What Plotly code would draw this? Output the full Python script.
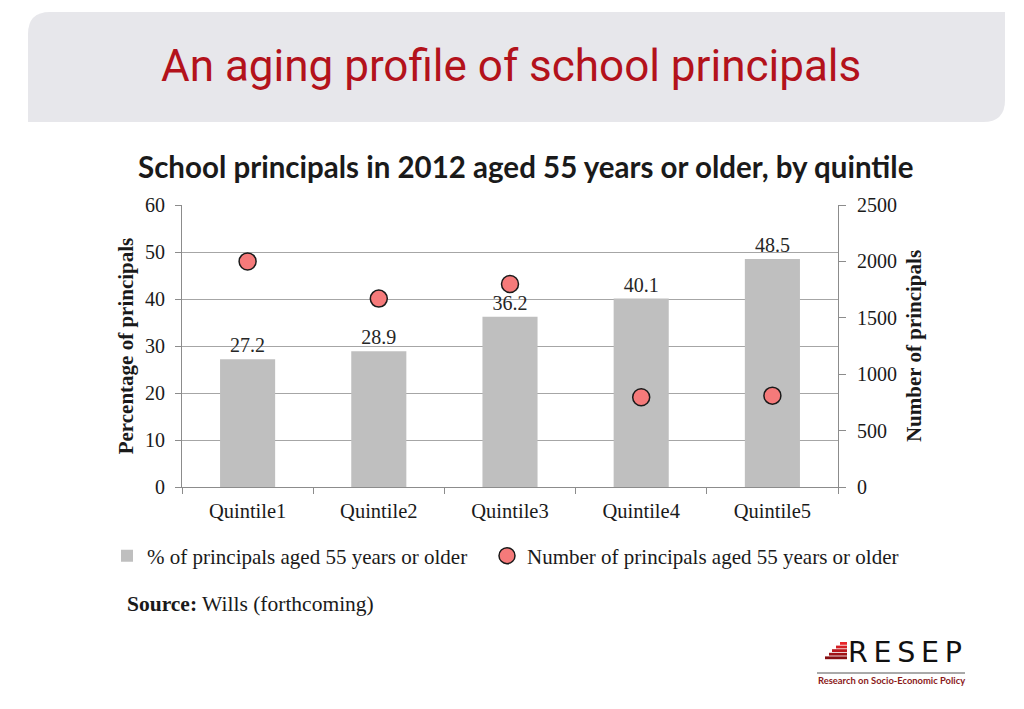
import plotly.graph_objects as go

categories = ["Quintile1", "Quintile2", "Quintile3", "Quintile4", "Quintile5"]
pct_55plus = [27.2, 28.9, 36.2, 40.1, 48.5]
num_55plus = [2000, 1670, 1800, 795, 810]
left_ticks = [0, 10, 20, 30, 40, 50, 60]
right_ticks = [0, 500, 1000, 1500, 2000, 2500]

W, H = 1024, 709
PL, PR, PT, PB = 182, 838, 205, 487


def px(x):
    return (x - PL) / (PR - PL)


def py(y):
    return (PB - y) / (PB - PT)


SERIF = "Liberation Serif, Times New Roman, serif"

fig = go.Figure()
fig.add_trace(go.Bar(
    x=categories, y=pct_55plus, name="% of principals aged 55 years or older",
    marker=dict(color="#bfbfbf", line=dict(width=0)),
    width=0.42,
    text=[f"{v:.1f}" for v in pct_55plus], textposition="outside",
    textfont=dict(family=SERIF, size=20, color="#262626"),
    cliponaxis=False, legend="legend",
))
fig.add_trace(go.Scatter(
    x=categories, y=num_55plus, yaxis="y2", mode="markers",
    name="Number of principals aged 55 years or older",
    marker=dict(size=17, color="#f57a7a", line=dict(color="#1a1a1a", width=1.5)),
    legend="legend2",
))

shapes = []
# header band with rounded top-left and bottom-right corners
x0, x1, y0, y1, r = 28, 1005, 12, 122, 22
path = (f"M {px(x0)},{py(y0 + r)} Q {px(x0)},{py(y0)} {px(x0 + r)},{py(y0)} "
        f"L {px(x1)},{py(y0)} L {px(x1)},{py(y1 - r)} "
        f"Q {px(x1)},{py(y1)} {px(x1 - r)},{py(y1)} L {px(x0)},{py(y1)} Z")
shapes.append(dict(type="path", xref="paper", yref="paper", path=path,
                   fillcolor="#e7e7eb", line=dict(width=0), layer="below"))

# logo stepped bars
step_colors = ["#e8262a", "#d41f24", "#b8171c", "#9e1216", "#860e12"]
lefts = [840, 836, 832, 829, 825]
for i, (c, lx) in enumerate(zip(step_colors, lefts)):
    ty = 642 + i * 3.6
    shapes.append(dict(type="rect", xref="paper", yref="paper",
                       x0=px(lx), x1=px(847), y0=py(ty + 2.8), y1=py(ty),
                       fillcolor=c, line=dict(width=0)))
shapes.append(dict(type="line", xref="paper", yref="paper",
                   x0=px(817), x1=px(965), y0=py(673), y1=py(673),
                   line=dict(color="#555555", width=1)))

annotations = [
    dict(text="An aging profile of school principals", x=px(511), y=py(66),
         xref="paper", yref="paper", showarrow=False, xanchor="center", yanchor="middle",
         font=dict(family="Liberation Sans Narrow, Arial Narrow, Roboto, sans-serif",
                   size=44, color="#b3121b")),
    dict(text="<b>School principals in 2012 aged 55 years or older, by quintile</b>",
         x=px(525), y=py(166), xref="paper", yref="paper", showarrow=False,
         xanchor="center", yanchor="middle",
         font=dict(family="Lato, Carlito, sans-serif", size=29.5, color="#1a1a1a")),
    dict(text="<b>Source:</b> Wills (forthcoming)", x=px(125), y=py(604),
         xref="paper", yref="paper", showarrow=False, xanchor="left", yanchor="middle",
         font=dict(family=SERIF, size=21.5, color="#1a1a1a")),
    dict(text="R\u2009E\u2009S\u2009E\u2009P", x=px(846), y=py(652), xref="paper", yref="paper",
         showarrow=False, xanchor="left", yanchor="middle",
         font=dict(family="DejaVu Sans, sans-serif", size=28.5, color="#111111")),
    dict(text="<b>Research on Socio-Economic Policy</b>", x=px(891), y=py(680),
         xref="paper", yref="paper", showarrow=False, xanchor="center", yanchor="middle",
         font=dict(family="Lato, sans-serif", size=9.4, color="#8b1a1a")),
]

legend_font = dict(family=SERIF, size=21, color="#1a1a1a")

fig.update_layout(
    width=W, height=H,
    margin=dict(l=PL, r=W - PR, t=PT, b=H - PB, pad=0),
    paper_bgcolor="white", plot_bgcolor="white",
    shapes=shapes, annotations=annotations,
    showlegend=True,
    legend=dict(orientation="h", x=px(107), y=py(556), xanchor="left", yanchor="middle",
                font=legend_font, itemwidth=30, bgcolor="rgba(0,0,0,0)"),
    legend2=dict(orientation="h", x=px(487), y=py(556), xanchor="left", yanchor="middle",
                 font=legend_font, itemwidth=30, bgcolor="rgba(0,0,0,0)"),
    xaxis=dict(
        tickfont=dict(family=SERIF, size=20.5, color="#1a1a1a"),
        showline=True, linecolor="#8c8c8c", linewidth=1,
        ticks="outside", tickson="boundaries", ticklen=6, tickcolor="#8c8c8c",
        showgrid=False, ticklabelstandoff=5,
    ),
    yaxis=dict(
        range=[0, 60], tickvals=left_ticks,
        tickfont=dict(family=SERIF, size=20, color="#1a1a1a"),
        showline=True, linecolor="#8c8c8c", linewidth=1,
        ticks="outside", ticklen=6, tickcolor="#8c8c8c",
        showgrid=True, gridcolor="#a6a6a6", gridwidth=1, zeroline=False,
        title=dict(text="<b>Percentage of principals</b>",
                   font=dict(family=SERIF, size=21, color="#1a1a1a"), standoff=5),
        ticklabelstandoff=6,
    ),
    yaxis2=dict(
        range=[0, 2500], tickvals=right_ticks, overlaying="y", side="right",
        tickfont=dict(family=SERIF, size=20, color="#1a1a1a"),
        showline=True, linecolor="#8c8c8c", linewidth=1,
        ticks="outside", ticklen=7, tickcolor="#8c8c8c",
        showgrid=False, zeroline=False,
        title=dict(text="<b>Number of principals</b>",
                   font=dict(family=SERIF, size=21, color="#1a1a1a"), standoff=10),
        ticklabelstandoff=7,
    ),
)

fig.write_html("out.html", config={"displayModeBar": False},
               post_script="document.body.style.margin='0';document.body.style.overflow='hidden';")
